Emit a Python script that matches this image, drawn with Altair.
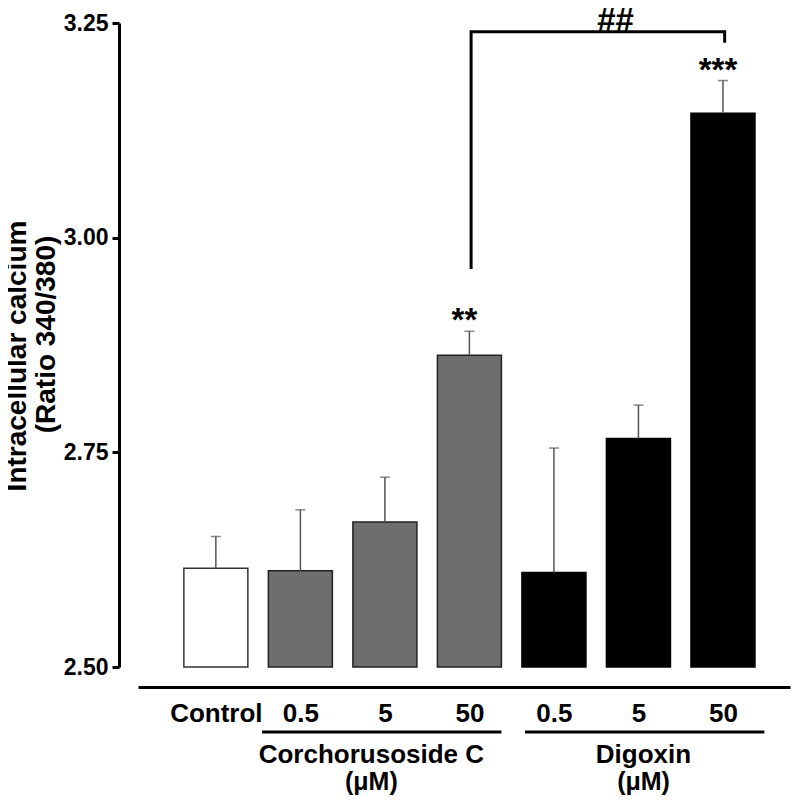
import json
import altair as alt
import pandas as pd

# ---- data ----
bar_labels = ["Control", "0.5", "5", "50", "0.5", "5", "50"]
bar_groups = ["Control", "Corchorusoside C", "Corchorusoside C", "Corchorusoside C",
              "Digoxin", "Digoxin", "Digoxin"]
bar_means = [2.615, 2.612, 2.669, 2.863, 2.610, 2.766, 3.145]
bar_err_tops = [2.652, 2.683, 2.721, 2.891, 2.755, 2.805, 3.183]
bar_stars = ["", "", "", "**", "", "", "***"]

group_names = ["Corchorusoside C", "Digoxin"]
group_line_start = [0.548, 3.658]
group_line_end = [3.379, 6.490]
group_label_x = [1.84, 5.06]
unit_label = "(μM)"

bracket_x = [3.02, 3.02, 6.02, 6.02]
bracket_y = [2.9635, 3.2397, 3.2397, 3.227]
bracket_label = "##"
bracket_label_x = 4.73
bracket_label_y = 3.2525

y_ticks = [2.50, 2.75, 3.00, 3.25]
y_title_lines = ["Intracellular calcium", "(Ratio 340/380)"]

FONT = "Liberation Sans"

df = pd.DataFrame({
    "idx": list(range(len(bar_labels))),
    "label": bar_labels,
    "group": bar_groups,
    "mean": bar_means,
    "upper": bar_err_tops,
    "star": bar_stars,
})

xs = alt.Scale(domain=[-0.862, 6.734], nice=False, zero=False)
ys = alt.Scale(domain=[2.5, 3.25], nice=False, zero=False)

label_expr = json.dumps(bar_labels) + "[datum.value]"

bars = alt.Chart(df).mark_bar(size=64, strokeWidth=1.5).encode(
    x=alt.X("idx:Q", scale=xs, title=None,
            axis=alt.Axis(values=list(range(len(bar_labels))), labelExpr=label_expr,
                          offset=20, domainWidth=3, domainColor="black", ticks=False,
                          tickSize=0, grid=False, labelFontSize=26, labelFont=FONT,
                          labelFontWeight="bold", labelColor="black", labelPadding=13,
                          labelOverlap=False, labelFlush=False)),
    y=alt.Y("mean:Q", scale=ys, title=None,
            axis=alt.Axis(values=y_ticks, format=".2f", offset=19, domainWidth=3,
                          domainColor="black", tickWidth=3, tickSize=7, tickColor="black",
                          grid=False, labelFontSize=23, labelFont=FONT,
                          labelFontWeight="bold", labelColor="black", labelPadding=4,
                          labelFlush=False, labelOverlap=False)),
    y2=alt.datum(2.5),
    fill=alt.Fill("group:N", legend=None,
                  scale=alt.Scale(domain=["Control", "Corchorusoside C", "Digoxin"],
                                  range=["white", "#6e6e6e", "black"])),
    stroke=alt.Stroke("group:N", legend=None,
                      scale=alt.Scale(domain=["Control", "Corchorusoside C", "Digoxin"],
                                      range=["#333333", "#222222", "black"])),
)

err = alt.Chart(df).mark_rule(color="#555555", strokeWidth=1.5).encode(
    x=alt.X("idx:Q", scale=xs, title=None),
    y=alt.Y("mean:Q", scale=ys, title=None),
    y2="upper:Q",
)

caps = alt.Chart(df).mark_tick(orient="horizontal", size=10, thickness=1.5,
                               color="#555555").encode(
    x=alt.X("idx:Q", scale=xs, title=None),
    y=alt.Y("upper:Q", scale=ys, title=None),
)

stars = alt.Chart(df).mark_text(font=FONT, fontSize=33, fontWeight="bold",
                                baseline="alphabetic", align="center", dy=0, dx=-5,
                                color="black").encode(
    x=alt.X("idx:Q", scale=xs, title=None),
    y=alt.Y("upper:Q", scale=ys, title=None),
    text="star:N",
)

bracket_df = pd.DataFrame({"bx": bracket_x, "by": bracket_y, "o": list(range(len(bracket_x)))})
bracket = alt.Chart(bracket_df).mark_line(color="black", strokeWidth=3).encode(
    x=alt.X("bx:Q", scale=xs, title=None),
    y=alt.Y("by:Q", scale=ys, title=None),
    order="o:Q",
)

bracket_txt = alt.Chart(pd.DataFrame({"tx": [bracket_label_x], "ty": [bracket_label_y],
                                      "t": [bracket_label]})).mark_text(
    font=FONT, fontSize=33, fontWeight="bold", baseline="middle", align="center",
    color="black").encode(
    x=alt.X("tx:Q", scale=xs, title=None),
    y=alt.Y("ty:Q", scale=ys, title=None),
    text="t:N",
)

gdf = pd.DataFrame({"g": group_names, "x0": group_line_start, "x1": group_line_end,
                    "lx": group_label_x, "u": [unit_label] * len(group_names)})

glines = alt.Chart(gdf).mark_rule(color="black", strokeWidth=3).encode(
    x=alt.X("x0:Q", scale=xs, title=None),
    x2="x1:Q",
    y=alt.value(709),
)

gnames = alt.Chart(gdf).mark_text(font=FONT, fontSize=26, fontWeight="bold",
                                  baseline="middle", align="center", color="black").encode(
    x=alt.X("lx:Q", scale=xs, title=None),
    y=alt.value(732),
    text="g:N",
)

gunits = alt.Chart(gdf).mark_text(font=FONT, fontSize=25, fontWeight="bold",
                                  baseline="middle", align="center", color="black").encode(
    x=alt.X("lx:Q", scale=xs, title=None),
    y=alt.value(759),
    text="u:N",
)

ytitle_df = pd.DataFrame({"t": y_title_lines})
ytitle1 = alt.Chart(ytitle_df.iloc[[0]]).mark_text(
    font=FONT, fontSize=28, fontWeight="bold", angle=270, baseline="middle",
    align="center", color="black").encode(
    x=alt.value(-120), y=alt.value(333), text="t:N")
ytitle2 = alt.Chart(ytitle_df.iloc[[1]]).mark_text(
    font=FONT, fontSize=28, fontWeight="bold", angle=270, baseline="middle",
    align="center", color="black").encode(
    x=alt.value(-91), y=alt.value(311.5), text="t:N")

chart = alt.layer(
    bars, err, caps, stars, bracket, bracket_txt, glines, gnames, gunits, ytitle1, ytitle2
).properties(
    width=652, height=644,
    autosize=alt.AutoSizeParams(type="none"),
    padding={"left": 130, "top": 15, "right": 2, "bottom": 129},
    background="white",
).configure_view(stroke=None)

chart.save("out.html", embed_options={"renderer": "svg", "actions": False})
